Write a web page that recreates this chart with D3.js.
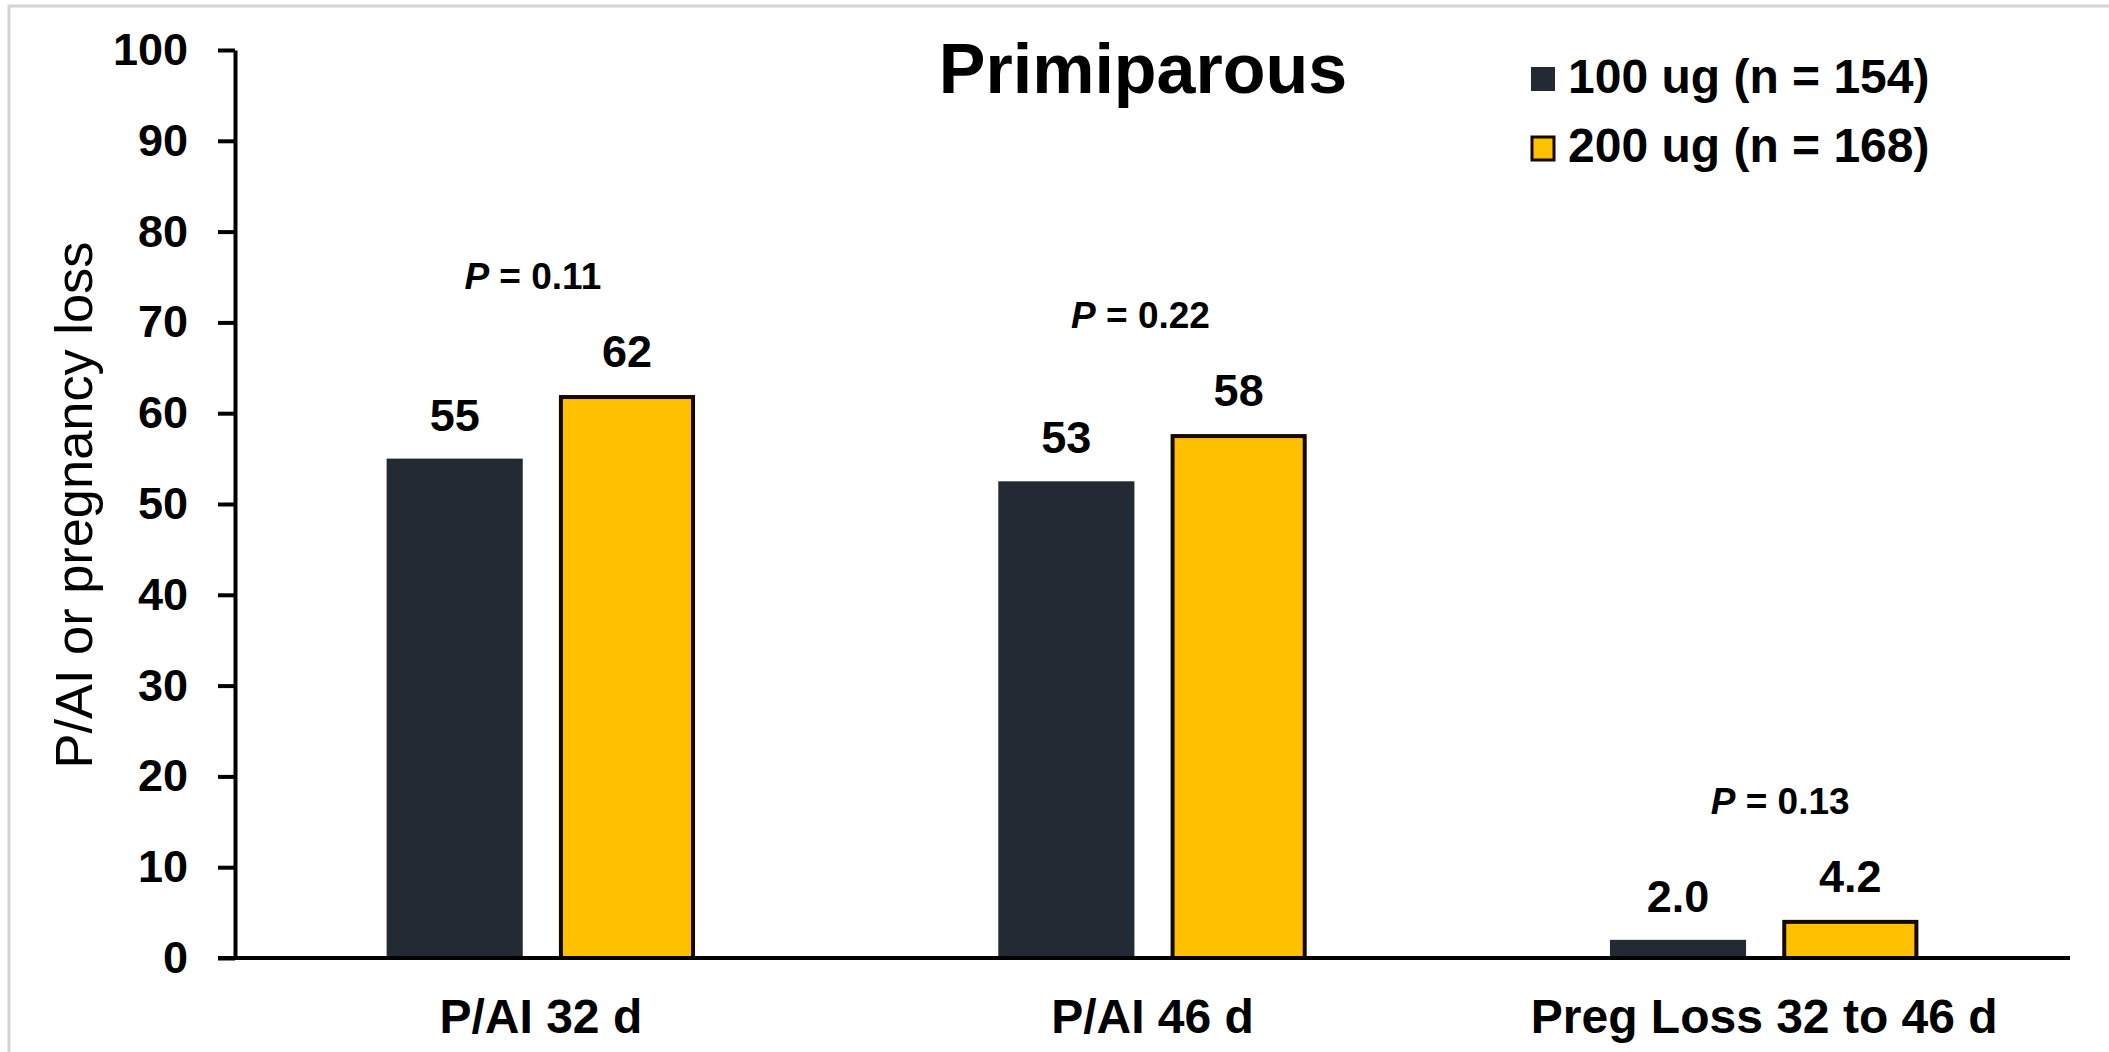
<!DOCTYPE html>
<html>
<head>
<meta charset="utf-8">
<script src="https://cdn.jsdelivr.net/npm/d3@7"></script>
<style>
  body { margin: 0; background: #fff; }
  text { font-family: "Liberation Sans", Arial, sans-serif; fill: #000; }
</style>
</head>
<body>
<div id="container"></div>
<script>
/* CONSTANTS AND GLOBALS */
const width = 2109,
  height = 1052

// DATA
const categories = ["P/AI 32 d", "P/AI 46 d", "Preg Loss 32 to 46 d"]
const seriesNames = ["100 ug (n = 154)", "200 ug (n = 168)"]
const dose100 = [55, 52.5, 2.0]
const dose200 = [62, 57.7, 4.2]
const dose100Labels = ["55", "53", "2.0"]
const dose200Labels = ["62", "58", "4.2"]
const pValues = ["0.11", "0.22", "0.13"]
const yTicks = [0, 10, 20, 30, 40, 50, 60, 70, 80, 90, 100]

// layout: small horizontal nudges of the P text boxes
const pNudge = [-8, -12, 16]
const colors = ["#232a33", "#ffc000"]

const data = categories.map((c, i) => ({
  cat: c,
  vals: [
    { s: 0, v: dose100[i], label: dose100Labels[i] },
    { s: 1, v: dose200[i], label: dose200Labels[i] }
  ],
  p: pValues[i],
  i: i
}))

// SCALES
const xScale = d3.scaleBand()
  .domain(categories)
  .range([235, 2070])
  .padding(0)

const x1 = d3.scaleBand()
  .domain([0, 1])
  .range([0, xScale.bandwidth()])
  .paddingInner(0.21)
  .paddingOuter(0.88)

const yScale = d3.scaleLinear()
  .domain([0, 100])
  .range([958, 50])

// CREATE SVG ELEMENT
const svg = d3.select("#container")
  .append("svg")
  .attr("width", width)
  .attr("height", height)

// frame
svg.append("rect")
  .attr("x", 9)
  .attr("y", 6)
  .attr("width", width)
  .attr("height", height)
  .attr("fill", "none")
  .attr("stroke", "#d4d4d4")
  .attr("stroke-width", 3)

// DRAW BARS
const groups = svg.selectAll(".group")
  .data(data)
  .join("g")
  .attr("class", "group")
  .attr("transform", d => `translate(${xScale(d.cat)}, 0)`)

groups.selectAll("rect")
  .data(d => d.vals)
  .join("rect")
  .attr("x", d => x1(d.s) + (d.s === 1 ? 2 : 0))
  .attr("width", d => x1.bandwidth() - (d.s === 1 ? 4 : 0))
  .attr("y", d => yScale(d.v) + (d.s === 1 ? 2 : 0))
  .attr("height", d => yScale(0) - yScale(d.v) - (d.s === 1 ? 2 : 0))
  .attr("fill", d => colors[d.s])
  .attr("stroke", d => d.s === 1 ? "#140800" : "none")
  .attr("stroke-width", 4)

// value labels
groups.selectAll(".val")
  .data(d => d.vals)
  .join("text")
  .attr("class", "val")
  .attr("text-anchor", "middle")
  .attr("x", d => x1(d.s) + x1.bandwidth() / 2)
  .attr("y", d => yScale(d.v) - 28)
  .attr("font-size", 45)
  .attr("font-weight", "bold")
  .text(d => d.label)

// p-value labels
const pText = groups.append("text")
  .attr("text-anchor", "middle")
  .attr("x", d => xScale.bandwidth() / 2 + pNudge[d.i])
  .attr("y", d => yScale(d3.max(d.vals, v => v.v) + 11.7))
  .attr("font-size", 37)
  .attr("font-weight", "bold")
pText.append("tspan").attr("font-style", "italic").text("P")
pText.append("tspan").text(d => " = " + d.p)

// BUILD AND CALL AXES
// Y axis
const yAxis = d3.axisLeft(yScale)
  .tickValues(yTicks)
  .tickSize(17)
  .tickSizeOuter(0)
  .tickPadding(30)

const yG = svg.append("g")
  .attr("class", "yAxis")
  .attr("transform", `translate(${235}, 0)`)
  .call(yAxis)
yG.select(".domain").attr("stroke", "#000").attr("stroke-width", 4)
yG.selectAll(".tick line").attr("stroke", "#000").attr("stroke-width", 4)
yG.selectAll(".tick text")
  .attr("font-size", 45)
  .attr("font-weight", "bold")
  .attr("font-family", "'Liberation Sans', Arial, sans-serif")
  .attr("fill", "#000")

// X axis
const xAxis = d3.axisBottom(xScale)
  .tickSize(0)
  .tickSizeOuter(0)

const xG = svg.append("g")
  .attr("class", "xAxis")
  .attr("transform", `translate(0, ${yScale(0)})`)
  .call(xAxis)
xG.select(".domain")
  .attr("stroke", "#000")
  .attr("stroke-width", 4)
  .attr("d", `M${218},0H${2070}`)
xG.selectAll(".tick text")
  .attr("y", 75)
  .attr("dy", null)
  .attr("font-size", 48)
  .attr("font-weight", "bold")
  .attr("font-family", "'Liberation Sans', Arial, sans-serif")
  .attr("fill", "#000")

// y axis label
svg.append("text")
  .attr("text-anchor", "middle")
  .attr("transform", "translate(92, 505) rotate(-90)")
  .attr("font-size", 52)
  .attr("textLength", 527)
  .attr("lengthAdjust", "spacingAndGlyphs")
  .text("P/AI or pregnancy loss")

// title
svg.append("text")
  .attr("text-anchor", "middle")
  .attr("x", 1143)
  .attr("y", 93)
  .attr("font-size", 70)
  .attr("font-weight", "bold")
  .text("Primiparous")

// LEGEND
const legend = svg.selectAll(".legend")
  .data(seriesNames)
  .join("g")
  .attr("class", "legend")
  .attr("transform", (d, i) => `translate(1531, ${67 + i * 69})`)

legend.append("rect")
  .attr("x", (d, i) => i === 1 ? 1 : 0)
  .attr("y", (d, i) => i === 1 ? 1 : 0)
  .attr("width", (d, i) => i === 1 ? 22 : 24)
  .attr("height", (d, i) => i === 1 ? 23 : 24)
  .attr("fill", (d, i) => colors[i])
  .attr("stroke", (d, i) => i === 1 ? "#140800" : "none")
  .attr("stroke-width", 3)

legend.append("text")
  .attr("x", 37)
  .attr("y", 26)
  .attr("font-size", 48)
  .attr("font-weight", "bold")
  .text(d => d)
</script>
</body>
</html>
